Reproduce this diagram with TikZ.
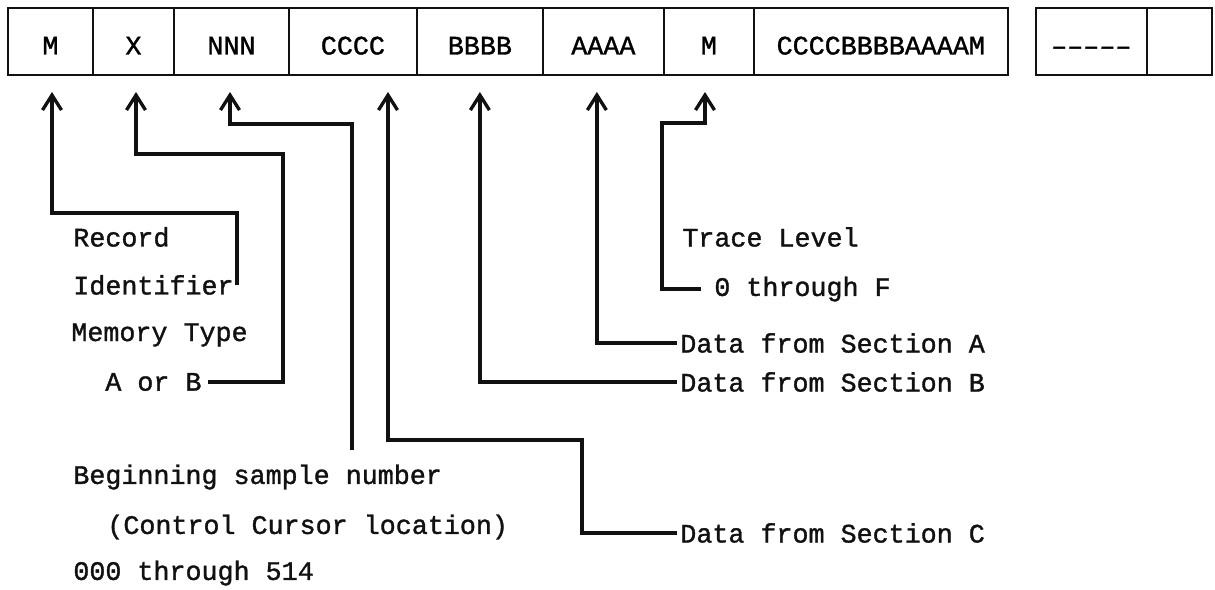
\documentclass[tikz,border=0pt]{standalone}
\usepackage{fontspec}
\setmainfont{Liberation Mono}[BoldFont=Liberation Mono, BoldFeatures={FakeBold=1.3}]
\usepackage{tikz}
\usetikzlibrary{arrows.meta,positioning,calc}
\definecolor{ink}{HTML}{111111}

\begin{document}
\begin{tikzpicture}[x=0.02cm, y=-0.02cm,
  box/.style={draw=ink, line width=1.4pt, minimum height=1.34cm, inner sep=0pt,
              outer sep=0pt, text height=0.52cm, text depth=0pt,
              font=\fontsize{15.2pt}{18pt}\selectfont\bfseries},
  lbl/.style={anchor=west, inner sep=0.06cm, text=ink,
              font=\fontsize{15.2pt}{18pt}\selectfont\bfseries},
  arr/.style={-{Straight Barb[length=0.3cm, width=0.38cm]}, line width=1.9pt,
              color=ink, shorten >=0.34cm}]
\useasboundingbox (0,0) rectangle (1215,590);
% record boxes
\node[box, minimum width=1.70cm, anchor=north west] (mbox) at (8,8) {M};
\node[box, minimum width=1.62cm, right=0pt of mbox] (xbox) {X};
\node[box, minimum width=2.30cm, right=0pt of xbox] (nbox) {NNN};
\node[box, minimum width=2.56cm, right=0pt of nbox] (cbox) {CCCC};
\node[box, minimum width=2.52cm, right=0pt of cbox] (bbox) {BBBB};
\node[box, minimum width=2.42cm, right=0pt of bbox] (abox) {AAAA};
\node[box, minimum width=1.80cm, right=0pt of abox] (tbox) {M};
\node[box, minimum width=5.08cm, right=0pt of tbox] (dbox) {CCCCBBBBAAAAM};
\node[box, minimum width=2.22cm, right=0.56cm of dbox] (nextbox) {\textendash\textendash\textendash\textendash\textendash};
\node[box, minimum width=1.30cm, right=0pt of nextbox] (endbox) {};
% labels
\node[lbl] (rec) at (70,237) {Record};
\node[lbl] (ident) at (70,285) {Identifier};
\node[lbl] (memt) at (68,335) {Memory Type};
\node[lbl] (aorb) at (102,382) {A or B};
\node[lbl] (trace) at (679,237) {Trace Level};
\node[lbl] (thruf) at (711,289) {0 through F};
\node[lbl] (seca) at (677,343) {Data from Section A};
\node[lbl] (secb) at (677,382) {Data from Section B};
\node[lbl] (secc) at (677,533) {Data from Section C};
\node[lbl] (begin) at (70,477) {Beginning sample number};
\node[lbl] (cursor) at (104,527) {(Control Cursor location)};
\node[lbl] (range) at (70,573) {000 through 514};
% bends
\coordinate (mturn) at (52,213);
\coordinate (xa) at (283,154);
\coordinate (xb) at (136,154);
\coordinate (nfoot) at (352,450);
\coordinate (nb) at (230,124);
\coordinate (ca) at (582,440);
\coordinate (cb) at (388,440);
\coordinate (ta) at (662,123);
\coordinate (tb) at (705,123);
% connectors
\draw[arr] (ident.east) |- (mturn) -- (mturn |- mbox.south);
\draw[arr, shorten <=0.06cm] (aorb.east) -| (xa) -- (xb) -- (xb |- xbox.south);
\draw[arr] (nfoot) |- (nb) -- (nb |- nbox.south);
\draw[arr] (secc.west) -| (ca) -- (cb) -- (cb |- cbox.south);
\draw[arr] (secb.west) -| (bbox.south);
\draw[arr] (seca.west) -| ([xshift=-0.13cm]abox.south);
\draw[arr, shorten <=0.2cm] (thruf.west) -| (ta) -- (tb) -- (tb |- tbox.south);
\end{tikzpicture}
\end{document}
